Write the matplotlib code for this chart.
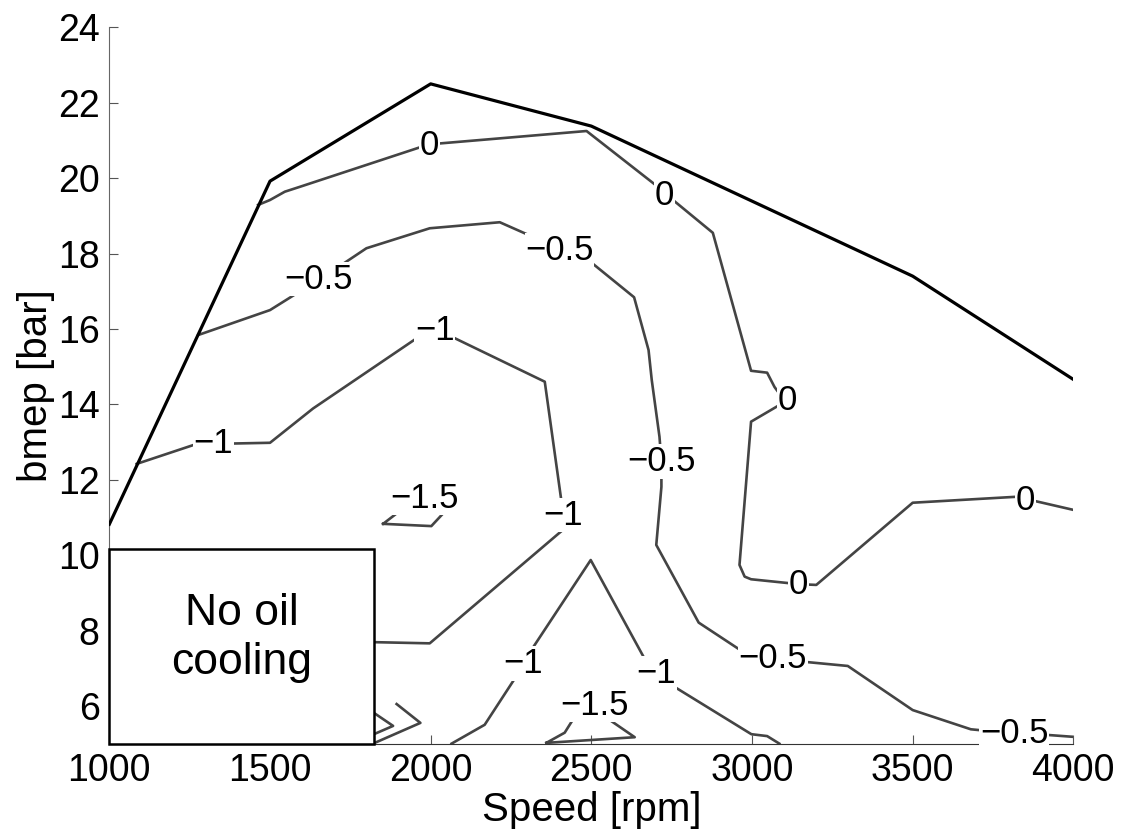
import matplotlib
matplotlib.use("Agg")
import matplotlib.pyplot as plt
from matplotlib.patches import Rectangle

plt.rcParams["font.family"] = ["Liberation Sans", "DejaVu Sans"]

# full-load limit curve
limit_speed = [1000, 1500, 2000, 2500, 3500, 4000]
limit_bmep = [10.82, 19.92, 22.50, 21.38, 17.40, 14.66]

# contour level 0
c0_speed = [1463, 1500, 1546, 1593, 1971, 1997, 2028, 2485, 2707, 2728, 2754, 2878,
            2997, 3047, 3070, 3100, 3085, 2997, 2961, 2977, 2997, 3145, 3200, 3500,
            3827, 3850, 3878, 4000]
c0_bmep = [19.29, 19.42, 19.64, 19.77, 20.83, 20.87, 20.92, 21.25, 19.77, 19.55, 19.42, 18.55,
           14.89, 14.84, 14.46, 14.11, 13.98, 13.54, 9.74, 9.43, 9.36, 9.23, 9.21, 11.39,
           11.55, 11.50, 11.44, 11.20]

# contour level -0.5
c05_speed = [1277, 1500, 1650, 1728, 1800, 1997, 2215, 2329, 2401, 2490, 2633, 2678,
             2688, 2712, 2718, 2718, 2702, 2834, 2987, 3065, 3163, 3298, 3500, 3681,
             3816, 3920, 4000]
c05_bmep = [15.84, 16.50, 17.30, 17.73, 18.14, 18.67, 18.83, 18.40, 18.09, 17.83, 16.84, 15.44,
            14.64, 13.14, 12.48, 11.81, 10.27, 8.21, 7.35, 7.26, 7.17, 7.06, 5.89, 5.38,
            5.27, 5.23, 5.18]

# contour level -1 (upper branch, runs behind the text box)
c1a_speed = [1085, 1272, 1323, 1500, 1634, 1987, 2013, 2054, 2355, 2407, 2412, 2417,
             1997, 1831, 1790]
c1a_bmep = [12.42, 12.95, 12.95, 12.98, 13.89, 15.93, 15.95, 15.84, 14.60, 11.42, 11.06, 10.71,
            7.66, 7.69, 7.69]

# contour level -1 (lower peak)
c1b_speed = [2065, 2168, 2272, 2287, 2313, 2498, 2676, 2702, 2754, 2998, 3047, 3085]
c1b_bmep = [5.00, 5.50, 6.86, 7.13, 7.48, 9.87, 7.09, 6.87, 6.53, 5.25, 5.20, 5.00]

# contour level -1.5 (two small islands)
c15a_speed = [1852, 1919, 1982, 2049, 2002, 1852]
c15a_bmep = [10.83, 11.27, 11.51, 11.20, 10.77, 10.83]
c15b_speed = [2360, 2417, 2448, 2505, 2531, 2635, 2360]
c15b_bmep = [5.02, 5.29, 5.71, 5.95, 5.78, 5.17, 5.02]

# pieces coming out from behind the text box
c2a_speed = [1790, 1826, 1883, 1826, 1790]
c2a_bmep = [5.96, 5.80, 5.47, 5.26, 5.35]
c2b_speed = [1894, 1968, 1826, 1790]
c2b_bmep = [6.05, 5.55, 5.02, 4.95]

# contour labels
label_speed = [1997, 2728, 3111, 3145, 3850,
               1652, 2401, 2718, 3065, 3816,
               1323, 2013, 2412, 2287, 2702,
               1982, 2510]
label_bmep = [20.87, 19.55, 14.11, 9.23, 11.46,
              17.32, 18.09, 12.48, 7.26, 5.27,
              12.95, 15.95, 11.06, 7.13, 6.87,
              11.51, 6.02]
label_text = ["0", "0", "0", "0", "0",
              "\u22120.5", "\u22120.5", "\u22120.5", "\u22120.5", "\u22120.5",
              "\u22121", "\u22121", "\u22121", "\u22121", "\u22121",
              "\u22121.5", "\u22121.5"]

xticks = [1000, 1500, 2000, 2500, 3000, 3500, 4000]
yticks = [6, 8, 10, 12, 14, 16, 18, 20, 22, 24]

fig = plt.figure(figsize=(11.25, 8.36), dpi=100)
ax = fig.add_axes([0.0972, 0.1105, 0.8569, 0.8568])

contour_color = "#444444"
paths = [(c0_speed, c0_bmep), (c05_speed, c05_bmep), (c1a_speed, c1a_bmep),
         (c1b_speed, c1b_bmep), (c15a_speed, c15a_bmep), (c15b_speed, c15b_bmep),
         (c2a_speed, c2a_bmep), (c2b_speed, c2b_bmep)]
for xs, ys in paths:
    ax.plot(xs, ys, color=contour_color, linewidth=1.9, zorder=2)

ax.plot(limit_speed, limit_bmep, color="black", linewidth=2.3, zorder=3)

for x, y, t in zip(label_speed, label_bmep, label_text):
    ax.text(x, y, t, fontsize=25, ha="center", va="center", zorder=4,
            bbox=dict(facecolor="white", edgecolor="none", pad=0.5))

ax.add_patch(Rectangle((1000, 5), 824, 5.15, facecolor="white", edgecolor="black",
                       linewidth=1.8, zorder=6, clip_on=False))
ax.text(1412, 7.8, "No oil\ncooling", fontsize=32, ha="center", va="center",
        linespacing=1.25, zorder=7)

ax.set_xlim(1000, 4000)
ax.set_ylim(5, 24)
ax.set_xticks(xticks)
ax.set_yticks(yticks)
ax.tick_params(direction="in", length=6.5, width=0.8, labelsize=27, pad=7,
               colors="#555555", labelcolor="black")
ax.spines["top"].set_visible(False)
ax.spines["right"].set_visible(False)
ax.spines["left"].set_color("#666666")
ax.spines["bottom"].set_color("#333333")
ax.set_xlabel("Speed [rpm]", fontsize=29, labelpad=1)
ax.set_ylabel("bmep [bar]", fontsize=29, labelpad=2)

fig.savefig("out.png", dpi=100)
